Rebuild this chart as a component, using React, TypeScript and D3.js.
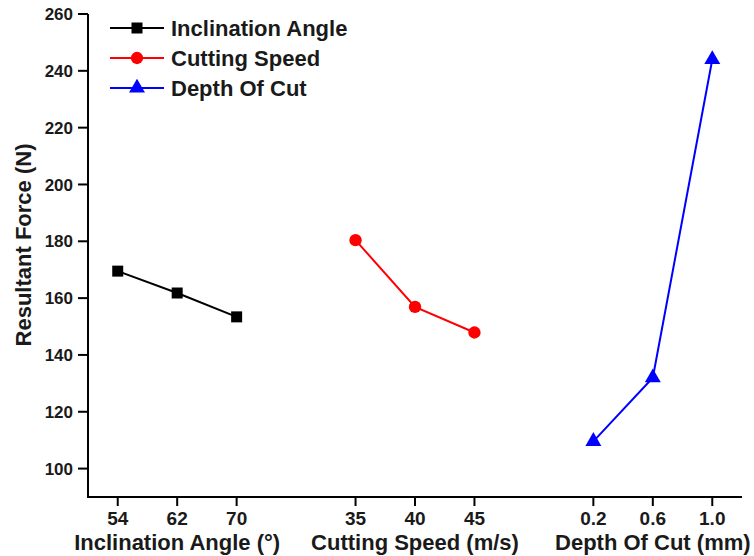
import React from 'react';
import * as d3 from 'd3';

const inclinationTicks = ['54', '62', '70'];
const inclinationForce = [169.5, 161.8, 153.4];
const speedTicks = ['35', '40', '45'];
const speedForce = [180.4, 156.9, 147.9];
const depthTicks = ['0.2', '0.6', '1.0'];
const depthForce = [109.6, 132.0, 244.0];
const yTicks = [100, 120, 140, 160, 180, 200, 220, 240, 260];

const W = 754;
const H = 556;
const FONT = '"Liberation Sans", Arial, sans-serif';

const series = [
  { name: 'Inclination Angle', title: 'Inclination Angle (°)', ticks: inclinationTicks, values: inclinationForce, color: '#000000', symbol: d3.symbolSquare, size: 121, offset: 0 },
  { name: 'Cutting Speed', title: 'Cutting Speed (m/s)', ticks: speedTicks, values: speedForce, color: '#ff0000', symbol: d3.symbolCircle, size: 120, offset: 4 },
  { name: 'Depth Of Cut', title: 'Depth Of Cut (mm)', ticks: depthTicks, values: depthForce, color: '#0000ff', symbol: d3.symbolTriangle, size: 110, offset: 8 },
];

export default function App() {
  const left = 88;
  const right = 742;
  const top = 14;
  const bottom = 497;

  // slot index scale: each group takes 3 slots with 1 empty slot between
  const x = d3.scaleLinear().domain([-0.5, 10.5]).range([left, right]);
  const y = d3.scaleLinear().domain([90, 260]).range([bottom, top]);

  const line = d3.line<[number, number]>().x(d => x(d[0])).y(d => y(d[1]));

  return (
    <div style={{ position: 'fixed', left: 0, top: 0 }}>
      <svg width={W} height={H} style={{ display: 'block', background: '#fff' }} fontFamily={FONT} fontWeight="bold">
        {/* axes */}
        <line x1={left} x2={left} y1={top} y2={bottom + 1} stroke="#000" strokeWidth={2} />
        <line x1={left - 1} x2={right} y1={bottom} y2={bottom} stroke="#000" strokeWidth={2} />

        {yTicks.map(t => (
          <g key={t}>
            <line x1={left - 10} x2={left} y1={y(t)} y2={y(t)} stroke="#000" strokeWidth={2} />
            <text x={left - 15} y={y(t)} dy="0.36em" textAnchor="end" fontSize={17} fill="#1a1a1a">{t}</text>
          </g>
        ))}

        {series.map(s => (
          <g key={s.name}>
            {s.ticks.map((t, i) => (
              <g key={t}>
                <line x1={x(s.offset + i)} x2={x(s.offset + i)} y1={bottom} y2={bottom + 9} stroke="#000" strokeWidth={2} />
                <text x={x(s.offset + i)} y={525} textAnchor="middle" fontSize={19} fill="#1a1a1a">{t}</text>
              </g>
            ))}
            <text x={x(s.offset + 1)} y={550} textAnchor="middle" fontSize={22} fill="#1a1a1a">{s.title}</text>
          </g>
        ))}

        <text transform="translate(31,245) rotate(-90)" textAnchor="middle" fontSize={22} fill="#1a1a1a">Resultant Force (N)</text>

        {/* data */}
        {series.map(s => {
          const pts: [number, number][] = s.values.map((v, i) => [s.offset + i, v]);
          const sym = d3.symbol().type(s.symbol).size(s.size)();
          return (
            <g key={s.name}>
              <path d={line(pts) || ''} fill="none" stroke={s.color} strokeWidth={2} />
              {pts.map((p, i) => (
                <path key={i} d={sym || ''} transform={`translate(${x(p[0])},${y(p[1])})`} fill={s.color} />
              ))}
            </g>
          );
        })}

        {/* legend */}
        {series.map((s, i) => {
          const ly = 28 + i * 30;
          const sym = d3.symbol().type(s.symbol).size(s.size)();
          return (
            <g key={s.name}>
              <line x1={110} x2={164} y1={ly} y2={ly} stroke={s.color} strokeWidth={2} />
              <path d={sym || ''} transform={`translate(137,${ly})`} fill={s.color} />
              <text x={171} y={ly} dy="0.36em" fontSize={22} fill="#1a1a1a">{s.name}</text>
            </g>
          );
        })}
      </svg>
    </div>
  );
}
